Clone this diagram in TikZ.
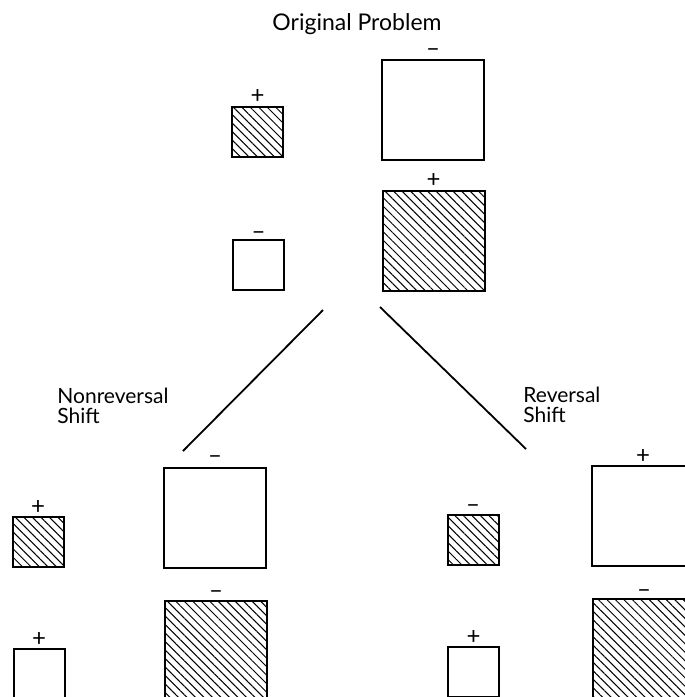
\documentclass[tikz,border=0pt]{standalone}
\usepackage{fontspec}
\setmainfont{Lato}
\usepackage{tikz}
\usetikzlibrary{positioning}
\usetikzlibrary{patterns.meta}

\tikzset{
  smallbox/.style={minimum width=25.5pt, minimum height=25pt},
  bigbox/.style={minimum width=51pt, minimum height=50pt},
  hatched/.style={pattern={Lines[angle=-45,distance=3pt,line width=0.5pt]}},
  sign/.style={font=\fontsize{12}{12}\selectfont, inner sep=0pt},
}

\begin{document}
\begin{tikzpicture}[x=0.5pt,y=-0.5pt]
	\useasboundingbox (0,0) rectangle (685,697);

	\node[font=\fontsize{11.5}{13}\selectfont, anchor=base] (title) at (357,30) {Original Problem};

	\begin{scope}[every node/.style={draw, line width=1pt, inner sep=0pt, outer sep=0pt}]
	    % original problem
	    \node[smallbox, hatched] (oA) at (257.5,132) {};
	    \node[bigbox] (oB) at (433,109.5) {};
	    \node[smallbox] (oC) at (258.5,265) {};
	    \node[bigbox, hatched] (oD) at (433.5,240.5) {};
	    % nonreversal shift
	    \node[smallbox, hatched] (nA) at (38,542) {};
	    \node[bigbox] (nB) at (215,517.5) {};
	    \node[smallbox] (nC) at (39,674) {};
	    \node[bigbox, hatched] (nD) at (216,650.5) {};
	    % reversal shift
	    \node[smallbox, hatched] (rA) at (473,540) {};
	    \node[bigbox] (rB) at (643,516) {};
	    \node[smallbox] (rC) at (473.5,672) {};
	    \node[bigbox, hatched] (rD) at (644,648.5) {};
	\end{scope}

	\node[sign, above=5pt of oA, anchor=center] (oAs) {+};
	\node[sign, above=3.5pt of oB, anchor=center] (oBs) {--};
	\node[sign, above=2pt of oC, anchor=center] (oCs) {--};
	\node[sign, above=5pt of oD, anchor=center] (oDs) {+};
	\node[sign, above=5pt of nA, anchor=center] (nAs) {+};
	\node[sign, above=4pt of nB, anchor=center] (nBs) {--};
	\node[sign, above=5pt of nC, anchor=center] (nCs) {+};
	\node[sign, above=3pt of nD, anchor=center] (nDs) {--};
	\node[sign, above=3pt of rA, anchor=center] (rAs) {--};
	\node[sign, above=5pt of rB, anchor=center] (rBs) {+};
	\node[sign, above=5pt of rC, anchor=center] (rCs) {+};
	\node[sign, above=2.5pt of rD, anchor=center] (rDs) {--};

	\node[font=\fontsize{10.5}{10}\selectfont, align=left, anchor=north west, inner sep=0pt] (nonrev) at (57,388) {Nonreversal\\Shift};
	\node[font=\fontsize{10.5}{10}\selectfont, align=left, anchor=north west, inner sep=0pt] (rev) at (523,387) {Reversal\\Shift};

	\coordinate (lt) at (323,310);
	\coordinate (lb) at (183,451);
	\coordinate (rt) at (380,307);
	\coordinate (rb) at (526,449);
	\draw[line width=0.9pt] (lt) -- (lb);
	\draw[line width=0.9pt] (rt) -- (rb);
\end{tikzpicture}
\end{document}
